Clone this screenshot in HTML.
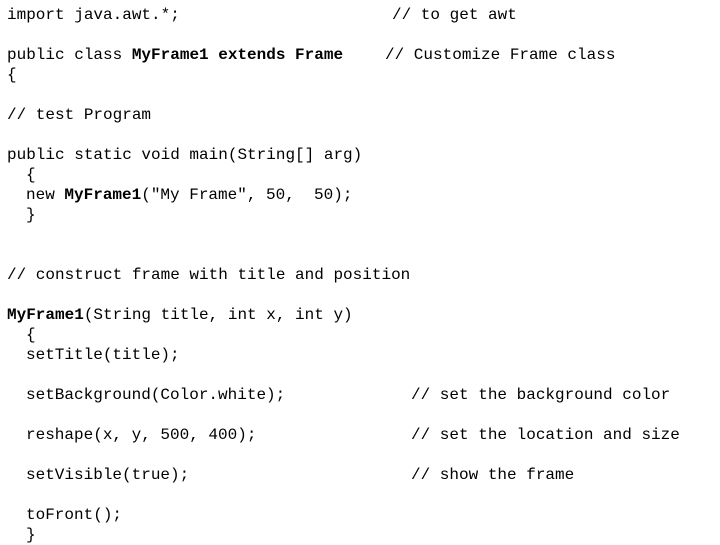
<!DOCTYPE html>
<html><head><meta charset="utf-8"><style>
body{margin:0;width:720px;height:540px;background:#fff;overflow:hidden;position:relative;font-family:"Liberation Mono",monospace;font-size:16px;color:#000}
div{position:absolute;white-space:pre;line-height:20px;height:20px}
b{font-weight:bold}
</style></head><body>
<div style="left:7px;top:5px">import java.awt.*;</div>
<div style="left:392px;top:5px">// to get awt</div>
<div style="left:7px;top:45px">public class <b>MyFrame1 extends Frame</b></div>
<div style="left:385px;top:45px">// Customize Frame class</div>
<div style="left:7px;top:65px">{</div>
<div style="left:7px;top:105px">// test Program</div>
<div style="left:7px;top:145px">public static void main(String[] arg)</div>
<div style="left:26px;top:165px">{</div>
<div style="left:26px;top:185px">new <b>MyFrame1</b>("My Frame", 50,  50);</div>
<div style="left:26px;top:205px">}</div>
<div style="left:7px;top:265px">// construct frame with title and position</div>
<div style="left:7px;top:305px"><b>MyFrame1</b>(String title, int x, int y)</div>
<div style="left:26px;top:325px">{</div>
<div style="left:26px;top:345px">setTitle(title);</div>
<div style="left:26px;top:385px">setBackground(Color.white);</div>
<div style="left:411px;top:385px">// set the background color</div>
<div style="left:26px;top:425px">reshape(x, y, 500, 400);</div>
<div style="left:411px;top:425px">// set the location and size</div>
<div style="left:26px;top:465px">setVisible(true);</div>
<div style="left:411px;top:465px">// show the frame</div>
<div style="left:26px;top:505px">toFront();</div>
<div style="left:26px;top:525px">}</div>
</body></html>
